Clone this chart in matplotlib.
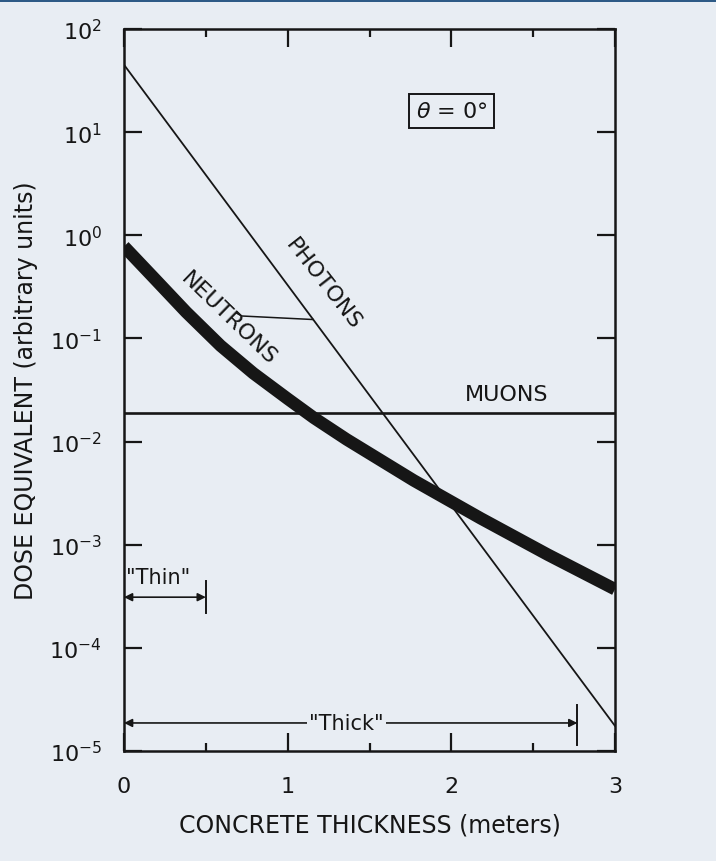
import numpy as np
import matplotlib
matplotlib.use("Agg")
import matplotlib.pyplot as plt
from matplotlib.patches import Rectangle
from matplotlib.ticker import FixedLocator, NullLocator

# Dose equivalent behind a concrete shield (theta = 0 deg)
thickness_photons = [0.0, 3.0]
dose_photons = [45.0, 1.75e-5]

dose_muons = 0.019

thickness_neutrons = [0.0, 0.18, 0.38, 0.59, 0.79, 1.0, 1.16, 1.36, 1.77, 2.18, 2.59, 3.0]
dose_neutrons = [0.78, 0.39, 0.18, 0.085, 0.046, 0.026, 0.017, 0.0105, 0.0042, 0.0018,
                 0.0008, 0.00037]

x_major = [0, 1, 2, 3]
x_minor = [0.5, 1.5, 2.5]
y_decades = [1e-5, 1e-4, 1e-3, 1e-2, 1e-1, 1e0, 1e1, 1e2]

thin_range = [0.0, 0.5]
thick_range = [0.0, 2.77]

paper = "#e8edf3"
ink = "#161616"

plt.rcParams["font.family"] = ["DejaVu Sans"]
plt.rcParams["mathtext.fontset"] = "dejavusans"

fig = plt.figure(figsize=(7.16, 8.62), dpi=100, facecolor=paper)
fig.add_artist(Rectangle((0, 1 - 3 / 862), 1, 3 / 862, transform=fig.transFigure,
                         facecolor="#2d5a86", edgecolor="none"))
ax = fig.add_axes([124 / 716, 1 - 752 / 862, (615 - 124) / 716, (752 - 30) / 862])
ax.set_facecolor(paper)

ax.set_yscale("log")
ax.set_xlim(0, 3)
ax.set_ylim(1e-5, 1e2)

# curves
ax.plot(thickness_photons, dose_photons, color=ink, lw=1.3)
ax.axhline(dose_muons, color=ink, lw=1.9)
ax.plot(thickness_neutrons, dose_neutrons, color=ink, lw=9,
        solid_capstyle="butt", solid_joinstyle="round")

# ticks
ax.xaxis.set_major_locator(FixedLocator(x_major))
ax.xaxis.set_minor_locator(FixedLocator(x_minor))
ax.set_xticklabels([str(v) for v in x_major])
ax.yaxis.set_major_locator(FixedLocator(y_decades))
ax.yaxis.set_minor_locator(NullLocator())
ax.tick_params(which="both", direction="in", top=True, right=True,
               colors=ink, labelsize=16, width=1.6)
ax.tick_params(which="major", length=13)
ax.tick_params(which="minor", length=6)
ax.tick_params(axis="x", pad=18)
ax.tick_params(axis="y", pad=16)
for s in ax.spines.values():
    s.set_linewidth(1.8)
    s.set_color(ink)

ax.set_xlabel("CONCRETE THICKNESS (meters)", fontsize=17, color=ink, labelpad=12)
ax.set_ylabel("DOSE EQUIVALENT (arbitrary units)", fontsize=17, color=ink, labelpad=8)

# curve labels
ax.text(1.22, 0.34, "PHOTONS", rotation=-52, fontsize=16, color=ink,
        ha="center", va="center", rotation_mode="anchor")
ax.text(0.64, 0.16, "NEUTRONS", rotation=-44, fontsize=16, color=ink,
        ha="center", va="center", rotation_mode="anchor")
ax.text(2.34, 0.029, "MUONS", fontsize=16, color=ink, ha="center", va="center")

# leader from the neutron label to the photon line
lead_x = 1.156
lead_y = 10 ** np.interp(lead_x, thickness_photons, np.log10(dose_photons))
ax.plot([0.69, 0.72, lead_x], [0.175, 0.165, lead_y], color=ink, lw=1.1)

# angle box
ax.text(2.0, 16.0, r"$\theta$ = 0°", fontsize=16, color=ink, ha="center", va="center",
        bbox=dict(boxstyle="square,pad=0.3", facecolor=paper, edgecolor=ink, lw=1.4))

# "Thin" and "Thick" ranges
thin_y = 3.1e-4
ax.annotate("", xy=(thin_range[0], thin_y), xytext=(thin_range[1], thin_y),
            arrowprops=dict(arrowstyle="<|-|>", color=ink, lw=1.2,
                            mutation_scale=12, shrinkA=0, shrinkB=0))
ax.plot([thin_range[1]] * 2, [2.2e-4, 4.4e-4], color=ink, lw=1.4)
ax.text(0.21, 4.9e-4, '"Thin"', fontsize=15, color=ink, ha="center", va="center")

thick_y = 1.87e-5
ax.annotate("", xy=(thick_range[0], thick_y), xytext=(thick_range[1], thick_y),
            arrowprops=dict(arrowstyle="<|-|>", color=ink, lw=1.2,
                            mutation_scale=12, shrinkA=0, shrinkB=0))
ax.plot([thick_range[1]] * 2, [1.15e-5, 2.8e-5], color=ink, lw=1.4)
ax.text(1.36, thick_y, '"Thick"', fontsize=15, color=ink, ha="center", va="center",
        bbox=dict(boxstyle="square,pad=0.1", facecolor=paper, edgecolor="none"))

fig.savefig("out.png", dpi=100, facecolor=paper)
